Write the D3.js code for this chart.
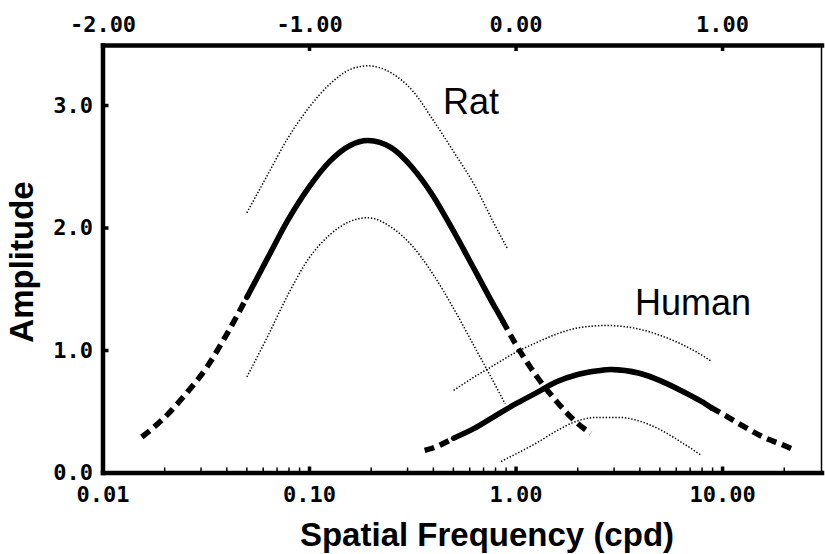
<!DOCTYPE html>
<html>
<head>
<meta charset="utf-8">
<script src="https://cdn.jsdelivr.net/npm/d3@7/dist/d3.min.js"></script>
<style>
  body { margin: 0; background: #fff; }
  .tick-label { font-family: "DejaVu Sans Mono", monospace; font-weight: bold; font-size: 22px; fill: #000; }
  .title { font-family: "Liberation Sans", Arial, sans-serif; font-weight: bold; font-size: 33px; fill: #000; }
  .curve-label { font-family: "Liberation Sans", Arial, sans-serif; font-size: 36px; fill: #000; }
</style>
</head>
<body>
<div id="chart"></div>
<script>
// spatial frequency (cpd) and amplitude
var ratFreq  = [0.0155, 0.020, 0.025, 0.032, 0.040, 0.050, 0.063, 0.079, 0.100, 0.126, 0.158, 0.193, 0.251, 0.316, 0.398, 0.501, 0.631, 0.794, 0.865, 1.00, 1.26, 1.58, 2.00, 2.31];
var ratMean  = [0.29, 0.45, 0.63, 0.86, 1.13, 1.43, 1.75, 2.06, 2.33, 2.54, 2.67, 2.71, 2.65, 2.49, 2.26, 1.97, 1.66, 1.35, 1.24, 1.05, 0.79, 0.58, 0.40, 0.32];
var ratSolid = [0.050, 0.865];

var ratUpperFreq = [0.050, 0.063, 0.079, 0.100, 0.126, 0.158, 0.193, 0.251, 0.316, 0.398, 0.501, 0.631, 0.794, 0.912];
var ratUpper     = [2.12, 2.43, 2.73, 2.98, 3.17, 3.29, 3.32, 3.26, 3.12, 2.88, 2.62, 2.35, 2.02, 1.83];
var ratLowerFreq = [0.050, 0.063, 0.079, 0.100, 0.126, 0.158, 0.193, 0.251, 0.316, 0.398, 0.501, 0.631, 0.794, 0.891];
var ratLower     = [0.78, 1.11, 1.45, 1.75, 1.94, 2.05, 2.08, 2.00, 1.85, 1.62, 1.34, 1.03, 0.72, 0.56];

var humanFreq  = [0.363, 0.398, 0.501, 0.631, 0.794, 1.00, 1.26, 1.58, 2.00, 2.51, 2.89, 3.98, 5.01, 6.31, 7.94, 8.85, 10.0, 12.6, 15.8, 20.0, 21.9];
var humanMean  = [0.18, 0.20, 0.28, 0.36, 0.46, 0.56, 0.65, 0.74, 0.80, 0.83, 0.84, 0.81, 0.75, 0.67, 0.58, 0.53, 0.48, 0.38, 0.29, 0.22, 0.19];
var humanSolid = [0.501, 8.85];

var humanUpperFreq = [0.501, 0.631, 0.794, 1.00, 1.26, 1.58, 2.00, 2.75, 3.98, 5.01, 6.31, 7.94, 8.85];
var humanUpper     = [0.67, 0.78, 0.88, 0.98, 1.06, 1.13, 1.18, 1.20, 1.17, 1.12, 1.05, 0.96, 0.91];
var humanLowerFreq = [0.851, 1.00, 1.26, 1.58, 1.91, 2.51, 3.16, 3.98, 5.01, 6.31, 7.94];
var humanLower     = [0.09, 0.15, 0.24, 0.34, 0.41, 0.45, 0.45, 0.42, 0.35, 0.25, 0.14];

var bottomTicks  = [0.01, 0.1, 1, 10];
var bottomLabels = ["0.01", "0.10", "1.00", "10.00"];
var minorTicks   = [0.02, 0.03, 0.04, 0.05, 0.06, 0.07, 0.08, 0.09, 0.2, 0.3, 0.4, 0.5, 0.6, 0.7, 0.8, 0.9, 2, 3, 4, 5, 6, 7, 8, 9, 20];
var topTicks     = [-2, -1, 0, 1];
var topLabels    = ["-2.00", "-1.00", "0.00", "1.00"];
var ampTicks     = [0, 1, 2, 3];
var ampLabels    = ["0.0", "1.0", "2.0", "3.0"];

(function() {
    var width = 825, height = 554;
    var plotLeft = 102.5, plotRight = 821.5, plotTop = 45, plotBottom = 472.5;

    var x = d3.scaleLog().domain([0.01, 30.3]).range([plotLeft, plotRight]);
    var xTop = d3.scaleLinear().domain([-2, Math.log10(30.3)]).range([plotLeft, plotRight]);
    var y = d3.scaleLinear().domain([0, 3.49]).range([plotBottom, plotTop]);

    var svg = d3.select("#chart").append("svg")
        .attr("width", width)
        .attr("height", height);

    // right edge is thin
    svg.append("line")
        .attr("x1", plotRight).attr("x2", plotRight)
        .attr("y1", plotTop).attr("y2", plotBottom)
        .attr("stroke", "#000").attr("stroke-width", 1.5);

    // minor ticks on bottom axis
    svg.append("g").selectAll("line")
        .data(minorTicks)
        .enter().append("line")
        .attr("x1", function(d) { return x(d); })
        .attr("x2", function(d) { return x(d); })
        .attr("y1", plotBottom).attr("y2", plotBottom - 5)
        .attr("stroke", "#000").attr("stroke-width", 1.5);

    function styleAxis(g) {
        g.select(".domain").attr("stroke", "#000").attr("stroke-width", 4.5).attr("stroke-linecap", "square");
        g.selectAll(".tick line").attr("stroke", "#000").attr("stroke-width", 3.5);
        g.selectAll(".tick text").attr("class", "tick-label").attr("font-family", null).attr("font-size", null);
    }

    svg.append("g")
        .attr("transform", "translate(0," + plotBottom + ")")
        .call(d3.axisBottom(x).tickValues(bottomTicks).tickSizeInner(-6).tickSizeOuter(0).tickPadding(14)
            .tickFormat(function(d, i) { return bottomLabels[i]; }))
        .call(styleAxis);

    svg.append("g")
        .attr("transform", "translate(0," + plotTop + ")")
        .call(d3.axisTop(xTop).tickValues(topTicks).tickSizeInner(-6).tickSizeOuter(0).tickPadding(13)
            .tickFormat(function(d, i) { return topLabels[i]; }))
        .call(styleAxis);

    svg.append("g")
        .attr("transform", "translate(" + plotLeft + ",0)")
        .call(d3.axisLeft(y).tickValues(ampTicks).tickSizeInner(-6).tickSizeOuter(0).tickPadding(9.5)
            .tickFormat(function(d, i) { return ampLabels[i]; }))
        .call(styleAxis);

    var line = d3.line()
        .x(function(d) { return x(d[0]); })
        .y(function(d) { return y(d[1]); })
        .curve(d3.curveMonotoneX);

    function pairs(fs, vs) {
        return fs.map(function(f, i) { return [f, vs[i]]; });
    }

    function drawMean(fs, vs, solid) {
        var pts = pairs(fs, vs);
        var lo = pts.filter(function(p) { return p[0] <= solid[0]; });
        var mid = pts.filter(function(p) { return p[0] >= solid[0] && p[0] <= solid[1]; });
        var hi = pts.filter(function(p) { return p[0] >= solid[1]; });
        [lo, hi].forEach(function(seg) {
            svg.append("path")
                .attr("d", line(seg))
                .attr("fill", "none").attr("stroke", "#000")
                .attr("stroke-width", 5.5)
                .attr("stroke-dasharray", "10,6");
        });
        svg.append("path")
            .attr("d", line(mid))
            .attr("fill", "none").attr("stroke", "#000")
            .attr("stroke-width", 5.5)
            .attr("stroke-linecap", "round");
    }

    function drawBound(fs, vs) {
        svg.append("path")
            .attr("d", line(pairs(fs, vs)))
            .attr("fill", "none").attr("stroke", "#000")
            .attr("stroke-width", 1.5)
            .attr("stroke-dasharray", "1.4,1.8");
    }

    drawBound(ratUpperFreq, ratUpper);
    drawBound(ratLowerFreq, ratLower);
    drawBound(humanUpperFreq, humanUpper);
    drawBound(humanLowerFreq, humanLower);
    drawMean(ratFreq, ratMean, ratSolid);
    drawMean(humanFreq, humanMean, humanSolid);

    svg.append("text").attr("class", "curve-label")
        .attr("x", 443).attr("y", 114).text("Rat");
    svg.append("text").attr("class", "curve-label")
        .attr("x", 635).attr("y", 315).text("Human");

    svg.append("text").attr("class", "title")
        .attr("x", 487).attr("y", 546)
        .attr("text-anchor", "middle")
        .text("Spatial Frequency (cpd)");

    svg.append("text").attr("class", "title")
        .attr("transform", "translate(33,262)rotate(-90)")
        .attr("text-anchor", "middle")
        .text("Amplitude");
})();
</script>
</body>
</html>
